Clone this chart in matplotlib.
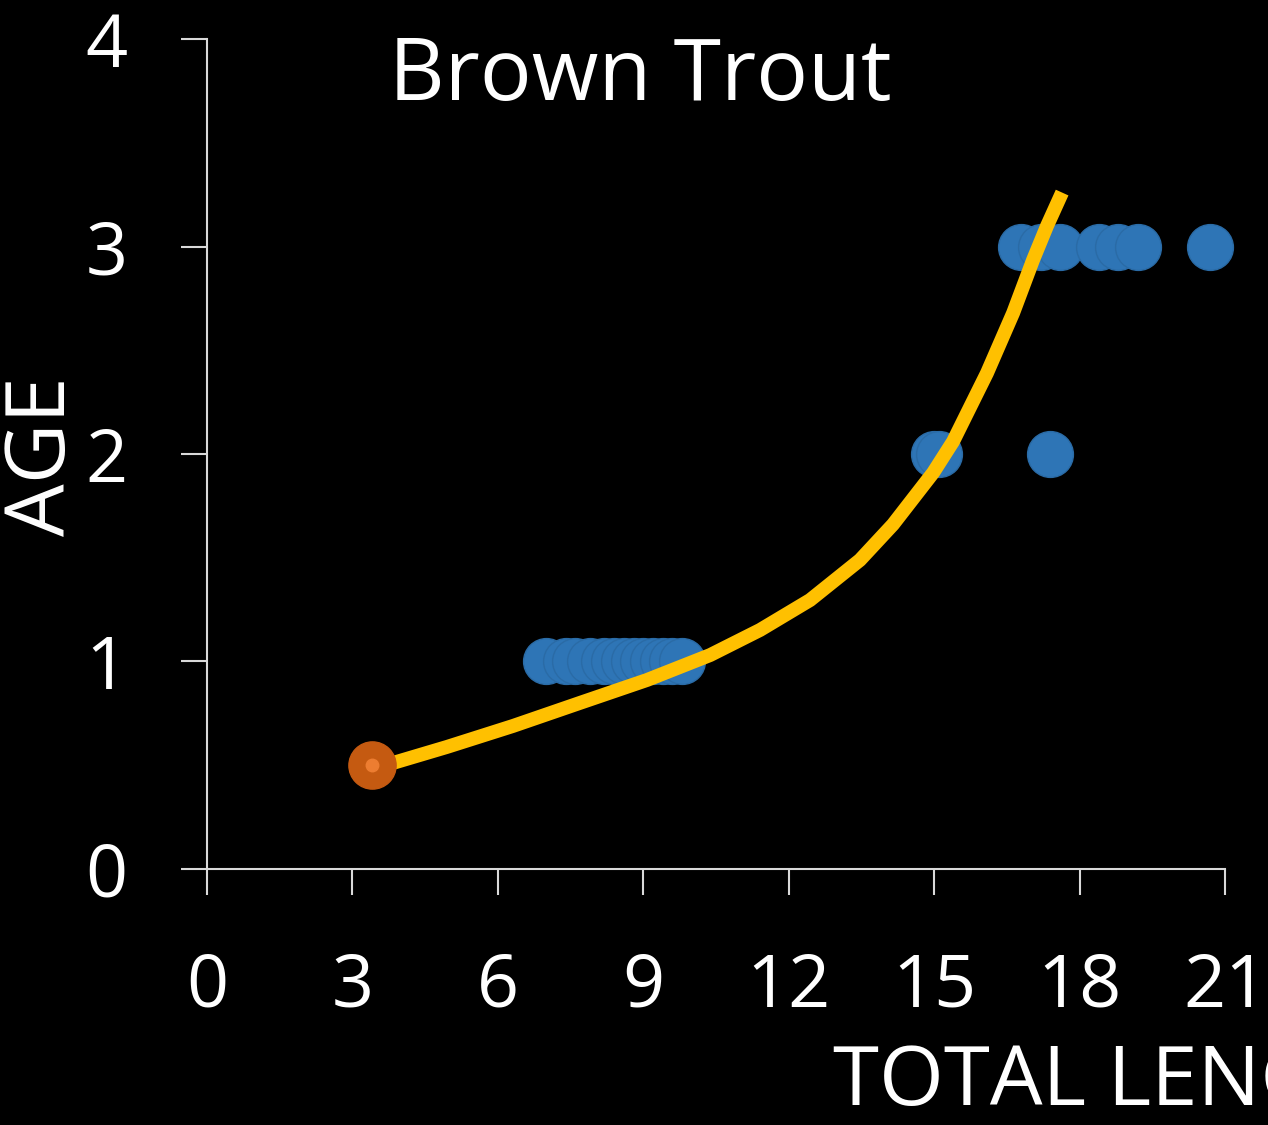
import numpy as np
import matplotlib.pyplot as plt

# observed fish: total length (in) and age
length = [7.0, 7.4, 7.6, 7.9, 8.2, 8.4, 8.6, 8.8, 9.0, 9.2, 9.4, 9.6, 9.8,
          15.0, 15.1, 17.4,
          16.8, 17.2, 17.6, 18.4, 18.8, 19.2, 20.7]
age = [1, 1, 1, 1, 1, 1, 1, 1, 1, 1, 1, 1, 1,
       2, 2, 2,
       3, 3, 3, 3, 3, 3, 3]

# young-of-year point
yoy_length = [3.4]
yoy_age = [0.5]

# fitted growth curve
curve_length = [3.45, 3.84, 4.95, 6.31, 7.69, 9.08, 10.38, 11.41, 12.44,
                13.47, 14.15, 14.98, 15.39, 16.09, 16.63, 17.04, 17.33, 17.64]
curve_age = [0.49, 0.511, 0.588, 0.689, 0.800, 0.911, 1.031, 1.152, 1.296,
             1.489, 1.66, 1.91, 2.06, 2.39, 2.68, 2.935, 3.10, 3.26]

plt.rcParams['font.family'] = ['Open Sans', 'DejaVu Sans']

fig = plt.figure(figsize=(12.68, 11.25), dpi=100, facecolor='black')
ax = fig.add_axes([0.1632, 0.2276, 0.8029, 0.7377])
ax.set_facecolor('black')

ax.plot(length, age, 'o', ms=33, color='#2E75B6', mec='#2A6BA6', mew=1,
        zorder=2, clip_on=False)
ax.plot(curve_length, curve_age, '-', color='#FFC000', lw=10,
        solid_capstyle='butt', solid_joinstyle='round', zorder=3)
ax.plot(yoy_length, yoy_age, 'o', ms=34, color='#C55A11', mec='#C55A11', zorder=4)
ax.plot(yoy_length, yoy_age, 'o', ms=9, color='#ED7D31', mec='#ED7D31', zorder=5)

ax.set_xlim(0, 21)
ax.set_ylim(0, 4)
ax.set_xticks(range(0, 22, 3))
ax.set_yticks(range(0, 5))

for s in ['top', 'right']:
    ax.spines[s].set_visible(False)
for s in ['left', 'bottom']:
    ax.spines[s].set_color('#D9D9D9')
    ax.spines[s].set_linewidth(1.5)

ax.tick_params(axis='both', colors='#D9D9D9', length=19, width=1.5,
               labelsize=53, labelcolor='white')
ax.tick_params(axis='y', pad=38)
ax.tick_params(axis='x', pad=40)
for lab in ax.get_xticklabels():
    lab.set_clip_on(False)

fig.text(0.5047, 1 - 100 / 1125, 'Brown Trout', color='white', fontsize=62,
         ha='center', va='baseline')
# the axis title runs off the right edge, as in the original slide
fig.text(833 / 1268, 1 - 1105 / 1125, 'TOTAL LENGTH (in)', color='white',
         fontsize=60, ha='left', va='baseline')
fig.text(44 / 1268, 1 - 456 / 1125, 'AGE', color='white', fontsize=60,
         rotation=90, ha='center', va='center')

plt.savefig('out.png', dpi=100, facecolor='black')
